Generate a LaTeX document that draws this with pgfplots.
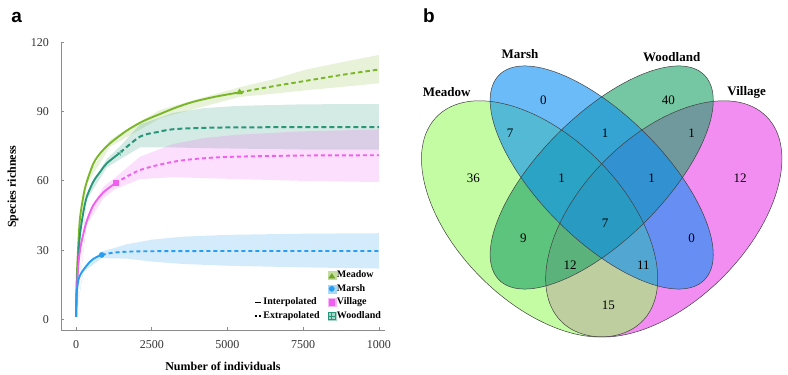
\documentclass[border=0pt]{standalone}
\usepackage{pgfplots}
\pgfplotsset{compat=1.18}
\usepackage{fontspec}
\setmainfont{Liberation Serif}
\newfontfamily\panelfont{Liberation Sans}

\definecolor{meadowL}{RGB}{122,182,40}
\definecolor{marshL}{RGB}{40,157,240}
\definecolor{villageL}{RGB}{240,95,240}
\definecolor{woodL}{RGB}{40,150,120}
\definecolor{meadowV}{RGB}{157,250,103}
\definecolor{marshV}{RGB}{10,142,245}
\definecolor{woodV}{RGB}{25,160,100}
\definecolor{villageV}{RGB}{233,67,233}

\begin{document}
\begin{tikzpicture}[x=1pt,y=1pt]
\useasboundingbox (0,0) rectangle (788,375);
\node[font=\panelfont\bfseries\fontsize{19}{19}\selectfont, inner sep=0pt] at (16.6,358) {a};
\node[font=\panelfont\bfseries\fontsize{19}{19}\selectfont, inner sep=0pt] at (428.8,358.8) {b};

% ---------------- panel a ----------------
\begin{axis}[
  at={(60.9pt,44.2pt)}, anchor=south west, scale only axis,
  width=324.1pt, height=288.3pt,
  xmin=-500, xmax=10200, ymin=-5, ymax=120,
  axis lines=left, axis line style={-, draw=black!45, line width=0.8pt},
  xtick={0,2500,5000,7500,10000}, xticklabels={0,2500,5000,7500,1000},
  ytick={0,30,60,90,120},
  scaled x ticks=false,
  tick align=inside, major tick length=3.5pt, tick style={black!45, line width=0.8pt},
  /pgf/number format/assume math mode=true,
  ticklabel style={font=\fontsize{12}{12}\selectfont, text=black!80},
  yticklabel style={xshift=-8.6pt},
  xticklabel style={yshift=-6pt},
  xlabel={Number of individuals}, ylabel={Species richness},
  label style={font=\bfseries\fontsize{12}{12}\selectfont},
  xlabel style={at={(axis description cs:0.5,-0.123)}, anchor=center},
  ylabel style={at={(axis description cs:-0.148,0.5)}, anchor=center},
  legend columns=2,
  legend cell align=left,
  legend style={at={(axis description cs:0.991,0.213)}, anchor=north east,
    draw=none, fill=none, inner sep=0pt,
    font=\bfseries\fontsize{10}{10}\selectfont,
    nodes={inner sep=1pt, text height=7pt, text depth=2pt},
    row sep=2.7pt,
    /tikz/every even column/.append style={column sep=7pt}},
]
% bands
\addplot[fill=meadowL, fill opacity=0.18, draw=none, forget plot] coordinates {
 (0,1) (77,35) (352,61.5) (1123,77.8) (2774,90.8) (5400,100.6) (6500,104) (7600,108.3) (8800,111.5) (10000,114.6)
 (10000,102.3) (8800,100.8) (7600,99.3) (6500,97.8) (5400,96.4) (2774,87.2) (1123,74.8) (352,58.5) (77,33) (0,1)};
\addplot[fill=woodL, fill opacity=0.2, draw=none, forget plot] coordinates {
 (0,1) (352,54.5) (1013,69.5) (1453,75) (2114,84.5) (3215,89.5) (4200,91.5) (5300,92.5) (7500,93.2) (10000,93.3)
 (10000,73.5) (7500,73.6) (5300,74) (4200,74.2) (3215,74.5) (2114,74.5) (1453,69.4) (1013,65.7) (352,51.8) (0,1)};
\addplot[fill=villageL, fill opacity=0.2, draw=none, forget plot] coordinates {
 (0,1) (352,44) (902,57.5) (1300,61.5) (2114,70.5) (3215,76) (4200,78.5) (5300,80) (7500,81.5) (10000,82.3)
 (10000,59.5) (7500,60) (5300,60.8) (4200,61.2) (3215,61.6) (2114,60.8) (1300,56.5) (902,52.5) (352,41) (0,1)};
\addplot[fill=marshL, fill opacity=0.2, draw=none, forget plot] coordinates {
 (0,1) (242,22.3) (848,29.3) (1673,32.5) (2500,34.5) (3500,35.8) (5000,36.6) (7500,37.1) (10000,37.3)
 (10000,22) (7500,22.5) (5000,23.2) (3500,24) (2500,25) (1673,26.3) (848,26.5) (242,20.5) (0,1)};
% interpolated
\addplot[meadowL, line width=1.9pt, smooth, forget plot] coordinates {
 (0,1) (25,18) (77,33) (132,44) (250,54) (352,59.5) (572,67.5) (800,72) (1123,76.3) (1673,81.8) (2200,85.8) (2774,89) (3300,91.8) (3875,94.3) (4600,96.5) (5400,98.4)};
\addplot[woodL, line width=1.9pt, smooth, forget plot] coordinates {
 (0,1) (25,14) (77,27) (132,37) (250,47) (352,53) (572,59.7) (800,64) (1013,67.6) (1453,72.2)};
\addplot[villageL, line width=1.9pt, smooth, forget plot] coordinates {
 (0,1) (25,12) (77,24) (150,31.5) (242,37) (352,42.5) (572,49.5) (902,55) (1300,59)};
\addplot[marshL, line width=1.9pt, smooth, forget plot] coordinates {
 (0,1) (22,11.3) (77,17) (150,19.5) (242,21.4) (462,25) (650,26.8) (848,27.9)};
% extrapolated
\addplot[meadowL, line width=1.9pt, dash pattern=on 4.5pt off 3pt, smooth, forget plot] coordinates {
 (5400,98.4) (6500,101) (7600,103.4) (8800,106) (10000,108.3)};
\addplot[woodL, line width=2pt, dash pattern=on 5pt off 3pt, smooth, forget plot] coordinates {
 (1453,72.2) (2114,79.2) (2700,81.2) (3215,82.4) (4200,83) (5306,83.2) (7500,83.3) (10000,83.3)};
\addplot[villageL, line width=1.9pt, dash pattern=on 4pt off 3pt, smooth, forget plot] coordinates {
 (1300,59) (2114,64.7) (3215,68.3) (4200,69.8) (5306,70.5) (7500,71) (10000,71.1)};
\addplot[marshL, line width=1.9pt, dash pattern=on 4pt off 3pt, smooth, forget plot] coordinates {
 (848,27.9) (1200,28.8) (1673,29.3) (2500,29.5) (5000,29.6) (10000,29.6)};
% observed points
\addplot[only marks, mark=triangle*, mark size=3.4pt, color=meadowL, forget plot] coordinates {(5400,98.4)};
\addplot[only marks, mark=*, mark size=2.6pt, color=marshL, forget plot] coordinates {(848,27.9)};
\addplot[only marks, mark=square*, mark size=2.5pt, color=villageL, forget plot] coordinates {(1300,59)};
\addplot[only marks, mark=+, mark size=3.2pt, color=woodL!60, line width=1pt, forget plot] coordinates {(1453,72.2)};
% legend
\addlegendimage{empty legend}\addlegendentry{\phantom{X}}
\addlegendimage{legend image code/.code={\fill[meadowL!45] (0pt,-4pt) rectangle (8pt,4pt); \fill[meadowL!90!black] (1pt,-3pt) -- (4pt,1.5pt) -- (7pt,-3pt) -- cycle;}}
\addlegendentry{Meadow}
\addlegendimage{empty legend}\addlegendentry{\phantom{X}}
\addlegendimage{legend image code/.code={\fill[marshL!40] (0pt,-4pt) rectangle (8pt,4pt); \fill[marshL] (4pt,0pt) circle (2.6pt);}}
\addlegendentry{Marsh}
\addlegendimage{legend image code/.code={\draw[black, line width=1.8pt] (0.5pt,0pt) -- (7pt,0pt);}}
\addlegendentry{Interpolated}
\addlegendimage{legend image code/.code={\fill[villageL!45] (0pt,-4pt) rectangle (8pt,4pt); \fill[villageL] (1.2pt,-2.8pt) rectangle (6.8pt,2.8pt);}}
\addlegendentry{Village}
\addlegendimage{legend image code/.code={\draw[black, line width=1.8pt, dash pattern=on 2.6pt off 1.6pt] (0.5pt,0pt) -- (7.4pt,0pt);}}
\addlegendentry{Extrapolated}
\addlegendimage{legend image code/.code={\fill[woodL!40] (0pt,-4pt) rectangle (8pt,4pt); \draw[woodL, line width=0.8pt] (0.4pt,-3.6pt) rectangle (7.6pt,3.6pt); \draw[woodL, line width=0.8pt] (4pt,-3.6pt) -- (4pt,3.6pt) (0.4pt,0pt) -- (7.6pt,0pt);}}
\addlegendentry{Woodland}
\end{axis}

% ---------------- panel b ----------------
\begin{axis}[
  at={(415pt,3pt)}, anchor=south west, scale only axis,
  width=373pt, height=352pt,
  xmin=415, xmax=788, ymin=3, ymax=355,
  hide axis, clip=false,
]
\fill[villageV, fill opacity=0.6, rotate around={45:(axis cs:663.8,156.1)}] (axis cs:663.8,156.1) ellipse [x radius=145pt, y radius=82.9pt];
\fill[meadowV, fill opacity=0.6, rotate around={-45:(axis cs:539.6,156.1)}] (axis cs:539.6,156.1) ellipse [x radius=145pt, y radius=82.9pt];
\fill[woodV, fill opacity=0.6, rotate around={45:(axis cs:601.7,197.5)}] (axis cs:601.7,197.5) ellipse [x radius=145pt, y radius=62.1pt];
\fill[marshV, fill opacity=0.6, rotate around={-45:(axis cs:601.7,197.5)}] (axis cs:601.7,197.5) ellipse [x radius=145pt, y radius=62.1pt];
\draw[black!75, line width=0.5pt, rotate around={45:(axis cs:663.8,156.1)}] (axis cs:663.8,156.1) ellipse [x radius=145pt, y radius=82.9pt];
\draw[black!75, line width=0.5pt, rotate around={-45:(axis cs:539.6,156.1)}] (axis cs:539.6,156.1) ellipse [x radius=145pt, y radius=82.9pt];
\draw[black!75, line width=0.5pt, rotate around={45:(axis cs:601.7,197.5)}] (axis cs:601.7,197.5) ellipse [x radius=145pt, y radius=62.1pt];
\draw[black!75, line width=0.5pt, rotate around={-45:(axis cs:601.7,197.5)}] (axis cs:601.7,197.5) ellipse [x radius=145pt, y radius=62.1pt];
\addplot[only marks, mark=*, mark size=0pt, mark options={draw=none, fill=none},
  point meta=explicit symbolic, nodes near coords,
  nodes near coords style={anchor=center, inner sep=0pt, font=\fontsize{13}{13}\selectfont, text=black}]
  table[meta=t] {
x y t
473.3 196.7 36
543.3 275.0 0
668.3 275.0 40
740.0 196.7 12
510.0 241.7 7
605.0 241.7 1
691.7 241.7 1
561.7 196.7 1
651.7 196.7 1
605.0 151.7 7
523.3 136.7 9
691.7 136.7 0
570.0 110.0 12
643.3 110.0 11
608.3 70.0 15
};
\node[font=\bfseries\fontsize{13}{13}\selectfont] at (axis cs:446.7,283.3) {Meadow};
\node[font=\bfseries\fontsize{13}{13}\selectfont] at (axis cs:520,321) {Marsh};
\node[font=\bfseries\fontsize{13}{13}\selectfont] at (axis cs:671.7,318.3) {Woodland};
\node[font=\bfseries\fontsize{13}{13}\selectfont] at (axis cs:746.7,282.3) {Village};
\end{axis}
\end{tikzpicture}
\end{document}
